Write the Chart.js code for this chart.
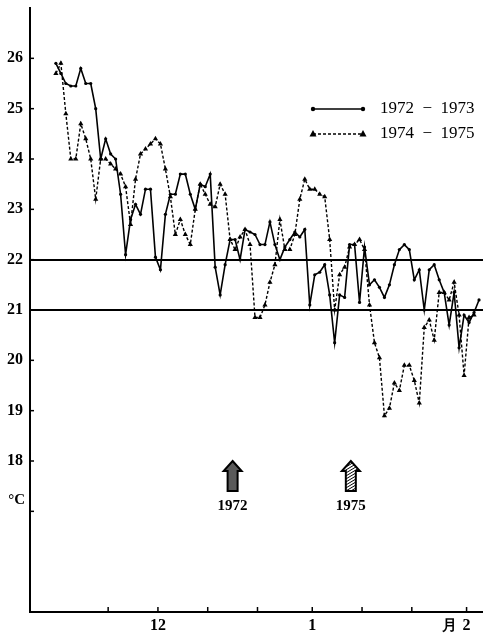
<!DOCTYPE html>
<html>
<head>
<meta charset="utf-8">
<script src="https://cdn.jsdelivr.net/npm/chart.js@4/dist/chart.umd.min.js"></script>
<style>
html, body { margin: 0; padding: 0; background: #fff; }
canvas { display: block; }
</style>
</head>
<body>
<canvas id="myChart" width="483" height="633"></canvas>
<script>
// days counted from 1 Nov (midnight); first reading is 10 Nov
var firstDay = 9.5;

var temps7273 = [
  25.9, 25.7, 25.5, 25.45, 25.45, 25.8, 25.5, 25.5, 25.0, 24.0,
  24.4, 24.1, 24.0, 23.3, 22.1, 22.8, 23.1, 22.9, 23.4, 23.4,
  22.05, 21.8, 22.9, 23.3, 23.3, 23.7, 23.7, 23.3, 23.0, 23.5,
  23.45, 23.7, 21.85, 21.3, 21.9, 22.4, 22.4, 22.0, 22.6, 22.55,
  22.5, 22.3, 22.3, 22.75, 22.3, 22.0, 22.25, 22.4, 22.55, 22.45,
  22.6, 21.1, 21.7, 21.75, 21.9, 21.3, 20.35, 21.3, 21.25, 22.3,
  22.3, 21.15, 22.25, 21.5, 21.6, 21.45, 21.25, 21.5, 21.9, 22.2,
  22.3, 22.2, 21.6, 21.8, 21.0, 21.8, 21.9, 21.6, 21.35, 20.7,
  21.35, 20.25, 20.9, 20.75, 20.95, 21.2
];

var temps7475 = [
  25.7, 25.9, 24.9, 24.0, 24.0, 24.7, 24.4, 24.0, 23.2, 24.0,
  24.0, 23.9, 23.8, 23.7, 23.45, 22.7, 23.6, 24.1, 24.2, 24.3,
  24.4, 24.3, 23.8, 23.25, 22.5, 22.8, 22.5, 22.3, 23.0, 23.5,
  23.3, 23.1, 23.05, 23.5, 23.3, 22.4, 22.2, 22.45, 22.6, 22.3,
  20.85, 20.85, 21.1, 21.55, 21.9, 22.8, 22.2, 22.2, 22.5, 23.2,
  23.6, 23.4, 23.4, 23.3, 23.25, 22.4, 21.0, 21.7, 21.85, 22.25,
  22.3, 22.4, 22.2, 21.1, 20.35, 20.05, 18.9, 19.05, 19.55, 19.4,
  19.9, 19.9, 19.6, 19.15, 20.65, 20.8, 20.4, 21.35, 21.35, 21.2,
  21.55, 20.9, 19.7, 20.85, 20.9
];

var seriesNames = ["1972  \u2212  1973", "1974  \u2212  1975"];
var dayTicks = [20, 30, 40, 50, 61, 71, 81, 92];
var monthLabels = { 30: "12", 61: "1", 92: "2" };
var yLabels = [18, 19, 20, 21, 22, 23, 24, 25, 26];
var refLines = [21, 22];
var arrowYears = ["1972", "1975"];
var arrowDays = [45, 68.75];

function toPoints(vals) {
  return vals.map(function (v, i) { return { x: firstDay + i, y: v }; });
}

var serif = "'Liberation Serif', 'DejaVu Serif', serif";

function arrowPath(c, cx, tipY) {
  c.beginPath();
  c.moveTo(cx, tipY);
  c.lineTo(cx + 9, tipY + 10);
  c.lineTo(cx + 5, tipY + 10);
  c.lineTo(cx + 5, tipY + 30);
  c.lineTo(cx - 5, tipY + 30);
  c.lineTo(cx - 5, tipY + 10);
  c.lineTo(cx - 9, tipY + 10);
  c.closePath();
}

function drawArrow(c, cx, tipY, hatch) {
  c.save();
  arrowPath(c, cx, tipY);
  if (hatch) {
    c.fillStyle = "#fff";
    c.fill();
    c.save();
    c.clip();
    c.strokeStyle = "#000";
    c.lineWidth = 1;
    for (var k = 0; k < 50; k += 3) {
      c.beginPath();
      c.moveTo(cx - 10, tipY + k);
      c.lineTo(cx + 10, tipY + k - 12);
      c.stroke();
    }
    c.restore();
  } else {
    c.fillStyle = "#5a5a5a";
    c.fill();
  }
  arrowPath(c, cx, tipY);
  c.strokeStyle = "#000";
  c.lineWidth = 2;
  c.stroke();
  c.restore();
}

var decorations = {
  id: "decorations",
  afterDatasetsDraw: function (chart) {
    var c = chart.ctx, xs = chart.scales.x, ys = chart.scales.y, area = chart.chartArea;
    c.save();
    c.strokeStyle = "#000";

    // 21 and 22 reference lines
    c.lineWidth = 2;
    refLines.forEach(function (v) {
      var py = Math.round(ys.getPixelForValue(v));
      c.beginPath(); c.moveTo(area.left, py); c.lineTo(area.right, py); c.stroke();
    });

    // tick marks on the inside of the axes
    c.lineWidth = 1.5;
    dayTicks.forEach(function (d) {
      var px = xs.getPixelForValue(d);
      c.beginPath(); c.moveTo(px, area.bottom); c.lineTo(px, area.bottom - 5); c.stroke();
    });
    for (var v = 17; v <= 26; v++) {
      var py = ys.getPixelForValue(v);
      c.beginPath(); c.moveTo(area.left, py); c.lineTo(area.left + 4, py); c.stroke();
    }

    c.fillStyle = "#000";
    c.font = "bold 15px " + serif;
    c.textBaseline = "middle";
    c.textAlign = "right";
    c.fillText("\u00B0C", area.left - 5, ys.getPixelForValue(17.22));
    c.textAlign = "center";
    c.fillText("\u6708", xs.getPixelForValue(92) - 17, area.bottom + 14);

    // legend
    var lx0 = 313, lx1 = 363, ly0 = 109, ly1 = 134;
    c.lineWidth = 1.5;
    c.beginPath(); c.moveTo(lx0, ly0); c.lineTo(lx1, ly0); c.stroke();
    [lx0, lx1].forEach(function (px) {
      c.beginPath(); c.arc(px, ly0, 2.2, 0, Math.PI * 2); c.fill();
    });
    c.setLineDash([3, 2]);
    c.beginPath(); c.moveTo(lx0, ly1); c.lineTo(lx1, ly1); c.stroke();
    c.setLineDash([]);
    [lx0, lx1].forEach(function (px) {
      c.beginPath(); c.moveTo(px, ly1 - 4); c.lineTo(px + 3.5, ly1 + 2.5); c.lineTo(px - 3.5, ly1 + 2.5); c.closePath(); c.fill();
    });
    c.font = "17px " + serif;
    c.textAlign = "left";
    c.fillText(seriesNames[0], 380, ly0);
    c.fillText(seriesNames[1], 380, ly1);

    // arrows
    arrowYears.forEach(function (yr, i) {
      var cx = xs.getPixelForValue(arrowDays[i]);
      var tip = ys.getPixelForValue(18);
      drawArrow(c, cx, tip, i === 1);
      c.fillStyle = "#000";
      c.font = "bold 15px " + serif;
      c.textAlign = "center";
      c.fillText(yr, cx, tip + 45);
    });
    c.restore();
  }
};

var ctx = document.getElementById("myChart");

var myChart = new Chart(ctx, {
  type: "line",
  data: {
    datasets: [
      {
        label: seriesNames[0],
        data: toPoints(temps7273),
        borderColor: "#000",
        backgroundColor: "#000",
        borderWidth: 1.6,
        pointStyle: "circle",
        pointRadius: 1.6,
        pointBorderWidth: 0,
        tension: 0
      },
      {
        label: seriesNames[1],
        data: toPoints(temps7475),
        borderColor: "#000",
        backgroundColor: "#000",
        borderWidth: 1.4,
        borderDash: [3, 2],
        pointStyle: "triangle",
        pointRadius: 3,
        pointBorderWidth: 0,
        tension: 0
      }
    ]
  },
  options: {
    responsive: false,
    animation: false,
    layout: { autoPadding: false, padding: { top: 8, right: 0, bottom: 0, left: 0 } },
    plugins: { legend: { display: false }, tooltip: { enabled: false } },
    scales: {
      x: {
        type: "linear",
        min: 4.3,
        max: 95.3,
        afterBuildTicks: function (scale) {
          scale.ticks = dayTicks.map(function (d) { return { value: d }; });
        },
        afterFit: function (scale) {
          scale.height = 21;
          scale.paddingLeft = 0;
          scale.paddingRight = 0;
        },
        grid: { display: false, drawTicks: false },
        border: { display: true, color: "#000", width: 2 },
        ticks: {
          autoSkip: false,
          maxRotation: 0,
          padding: 4,
          color: "#000",
          font: { family: serif, size: 16, weight: "bold" },
          callback: function (value) { return monthLabels[value] || ""; }
        }
      },
      y: {
        min: 15,
        max: 27,
        afterFit: function (scale) {
          scale.width = 30;
          scale.paddingTop = 0;
          scale.paddingBottom = 0;
        },
        grid: { display: false, drawTicks: false },
        border: { display: true, color: "#000", width: 2 },
        ticks: {
          stepSize: 1,
          padding: 7,
          color: "#000",
          font: { family: serif, size: 16, weight: "bold" },
          callback: function (value) {
            return yLabels.indexOf(value) >= 0 ? String(value) : "";
          }
        }
      }
    }
  },
  plugins: [decorations]
});
</script>
</body>
</html>
